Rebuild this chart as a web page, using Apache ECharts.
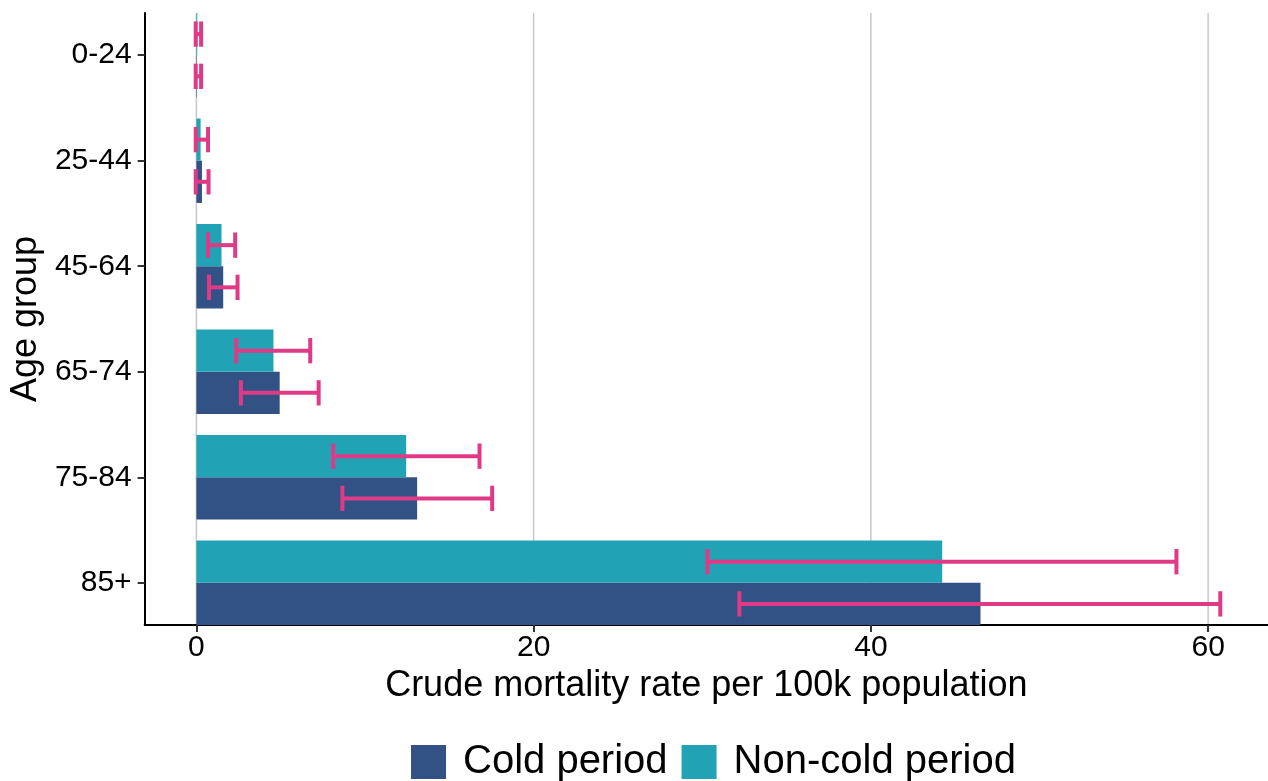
<!DOCTYPE html>
<html>
<head>
<meta charset="utf-8">
<script src="https://cdn.jsdelivr.net/npm/echarts@6/dist/echarts.min.js"></script>
<style>
html,body{margin:0;padding:0;background:#fff;}
#chart{width:1268px;height:781px;}
</style>
</head>
<body>
<div id="chart"></div>
<script>
// ---- Data ----
const categories = ['0-24', '25-44', '45-64', '65-74', '75-84', '85+'];
const coldRate     = [0.03, 0.33, 1.59, 4.94, 13.09, 46.5];
const coldLow      = [-0.04, -0.04, 0.75, 2.64, 8.66, 32.2];
const coldHigh     = [0.28, 0.72, 2.44, 7.25, 17.54, 60.72];
const nonColdRate  = [0.05, 0.25, 1.49, 4.57, 12.44, 44.23];
const nonColdLow   = [-0.04, -0.04, 0.69, 2.36, 8.11, 30.31];
const nonColdHigh  = [0.28, 0.69, 2.30, 6.75, 16.79, 58.12];
const xTicks = [0, 20, 40, 60];
const seriesNames = ['Cold period', 'Non-cold period'];

// ---- Styling ----
const COLD = '#325286';
const NONCOLD = '#22A2B5';
const ERR = '#E03A87';
const FONT = '"Liberation Sans", Arial, sans-serif';
const HALF = 0.4;      // bar thickness in category units
const CAP = 0.12;      // error-bar cap half height (category units)
const YMIN = -0.4, YMAX = categories.length - 1 + 0.4;

function barRender(offA, offB) {
  return function (params, api) {
    const idx = api.value(0), v = api.value(1);
    const p0 = api.coord([0, idx + offA]);
    const p1 = api.coord([v, idx + offB]);
    return {
      type: 'rect',
      shape: {
        x: Math.min(p0[0], p1[0]), y: Math.min(p0[1], p1[1]),
        width: Math.abs(p1[0] - p0[0]), height: Math.abs(p1[1] - p0[1])
      },
      style: { fill: api.visual('color') }
    };
  };
}
function errRender(off) {
  return function (params, api) {
    const idx = api.value(0) + off, lo = api.value(1), hi = api.value(2);
    const a = api.coord([lo, idx]), b = api.coord([hi, idx]);
    const capA = api.coord([lo, idx - CAP]), capA2 = api.coord([lo, idx + CAP]);
    const capB = api.coord([hi, idx - CAP]), capB2 = api.coord([hi, idx + CAP]);
    const st = { stroke: ERR, lineWidth: 4 };
    return {
      type: 'group',
      children: [
        { type: 'line', shape: { x1: a[0], y1: a[1], x2: b[0], y2: b[1] }, style: st },
        { type: 'line', shape: { x1: capA[0], y1: capA[1], x2: capA2[0], y2: capA2[1] }, style: st },
        { type: 'line', shape: { x1: capB[0], y1: capB[1], x2: capB2[0], y2: capB2[1] }, style: st }
      ]
    };
  };
}

const chart = echarts.init(document.getElementById('chart'));
chart.setOption({
  animation: false,
  backgroundColor: '#ffffff',
  textStyle: { fontFamily: FONT },
  grid: { left: 140, right: 0, top: 13, bottom: 156, containLabel: false },
  legend: {
    data: [
      { name: seriesNames[0], itemStyle: { color: COLD } },
      { name: seriesNames[1], itemStyle: { color: NONCOLD } }
    ],
    left: 406, top: 737, padding: 5,
    icon: 'rect', itemWidth: 35, itemHeight: 34, itemGap: 14,
    textStyle: { fontFamily: FONT, fontSize: 40, color: '#000', lineHeight: 40, padding: [0, 0, 0, 12] }
  },
  xAxis: {
    type: 'value', min: -3.07, max: 63.55,
    name: 'Crude mortality rate per 100k population',
    nameLocation: 'middle', nameGap: 43,
    nameTextStyle: { fontFamily: FONT, fontSize: 36, color: '#000' },
    axisLine: { show: true, onZero: false, lineStyle: { color: '#000', width: 2 } },
    axisTick: { show: true, customValues: xTicks, length: 7, lineStyle: { color: '#333', width: 2 } },
    axisLabel: { customValues: xTicks, margin: 8, fontFamily: FONT, fontSize: 30, color: '#000' },
    splitLine: { show: false }
  },
  yAxis: {
    type: 'value', inverse: true, min: YMIN, max: YMAX,
    name: 'Age group', nameLocation: 'middle', nameGap: 94, nameRotate: 90,
    nameTextStyle: { fontFamily: FONT, fontSize: 36, color: '#000' },
    axisLine: { show: true, onZero: false, lineStyle: { color: '#000', width: 2 } },
    axisTick: { show: true, customValues: categories.map((c, i) => i), length: 7, lineStyle: { color: '#333', width: 2 } },
    axisLabel: {
      customValues: categories.map((c, i) => i), margin: 13,
      fontFamily: FONT, fontSize: 30, color: '#000',
      formatter: v => categories[Math.round(v)]
    },
    splitLine: { show: false }
  },
  series: [
    {
      name: 'grid', type: 'custom', silent: true, z: 0,
      data: xTicks.map(v => [v]),
      renderItem: function (params, api) {
        const v = api.value(0);
        const a = api.coord([v, YMIN]), b = api.coord([v, YMAX]);
        return { type: 'line', shape: { x1: a[0], y1: a[1], x2: b[0], y2: b[1] },
                 style: { stroke: '#c8c8c8', lineWidth: 1.5 } };
      }
    },
    {
      name: seriesNames[0], type: 'custom', z: 2,
      itemStyle: { color: COLD },
      data: categories.map((c, i) => [i, coldRate[i]]),
      renderItem: barRender(0, HALF)
    },
    {
      name: seriesNames[1], type: 'custom', z: 2,
      itemStyle: { color: NONCOLD },
      data: categories.map((c, i) => [i, nonColdRate[i]]),
      renderItem: barRender(-HALF, 0)
    },
    {
      name: 'cold CI', type: 'custom', z: 3, silent: true,
      data: categories.map((c, i) => [i, coldLow[i], coldHigh[i]]),
      renderItem: errRender(HALF / 2)
    },
    {
      name: 'non-cold CI', type: 'custom', z: 3, silent: true,
      data: categories.map((c, i) => [i, nonColdLow[i], nonColdHigh[i]]),
      renderItem: errRender(-HALF / 2)
    }
  ]
});
</script>
</body>
</html>
